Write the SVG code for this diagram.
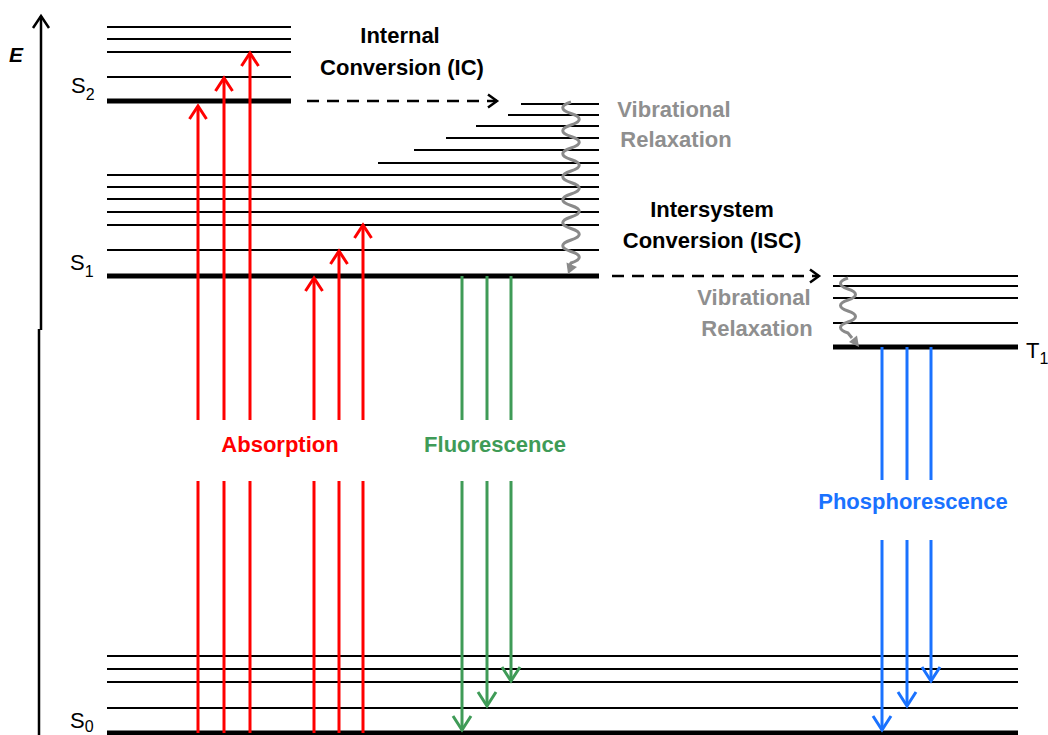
<svg xmlns="http://www.w3.org/2000/svg" width="1048" height="735" viewBox="0 0 1048 735">
<style>
.lv{stroke:#000;stroke-width:2;fill:none}
.lvt{stroke:#000;stroke-width:5;fill:none}
.lab{font-family:"Liberation Sans",Arial,sans-serif;font-weight:bold;font-size:22px;text-anchor:middle}
.st{font-family:"Liberation Sans",Arial,sans-serif;font-size:22px;fill:#000}
.sub{font-size:16px}
.red{stroke:#ff0000;stroke-width:3;fill:none}
.grn{stroke:#3f9b57;stroke-width:3;fill:none}
.blu{stroke:#1a72ff;stroke-width:3;fill:none}
.dash{stroke:#000;stroke-width:2.5;stroke-dasharray:12 8;fill:none}
.wave{stroke:#8a8a8a;stroke-width:3;fill:none}
.gray{fill:#8f8f8f}
</style>
<defs>
<marker id="ahR" markerWidth="30" markerHeight="30" refX="15" refY="15" orient="auto" markerUnits="userSpaceOnUse"><path d="M2,6.5 L15,15 L2,23.5" fill="none" stroke="#ff0000" stroke-width="3"/></marker>
<marker id="ahG" markerWidth="30" markerHeight="30" refX="15" refY="15" orient="auto" markerUnits="userSpaceOnUse"><path d="M1,6 L15,15 L1,24" fill="none" stroke="#3f9b57" stroke-width="3"/></marker>
<marker id="ahB" markerWidth="30" markerHeight="30" refX="15" refY="15" orient="auto" markerUnits="userSpaceOnUse"><path d="M1,6 L15,15 L1,24" fill="none" stroke="#1a72ff" stroke-width="3"/></marker>
<marker id="ahK" markerWidth="30" markerHeight="30" refX="15" refY="15" orient="auto" markerUnits="userSpaceOnUse"><path d="M6,8.5 L15,15 L6,21.5" fill="none" stroke="#000" stroke-width="2.5"/></marker>
<marker id="ahE" markerWidth="30" markerHeight="30" refX="15" refY="15" orient="auto" markerUnits="userSpaceOnUse"><path d="M3,7 L15,15 L3,23" fill="none" stroke="#000" stroke-width="2.5"/></marker>
</defs>
<rect width="1048" height="735" fill="#fff"/>

<g id="axis">
<line x1="41" y1="330" x2="41" y2="16" stroke="#000" stroke-width="2.5" marker-end="url(#ahE)"/>
<line x1="39" y1="329" x2="39" y2="735" stroke="#000" stroke-width="2.5"/>
<text x="9" y="62" style="font-family:'Liberation Sans',Arial,sans-serif;font-size:21px;font-style:italic;font-weight:bold">E</text>
</g>

<g id="S2">
<line class="lv" x1="107" y1="27" x2="291" y2="27"/>
<line class="lv" x1="107" y1="39" x2="291" y2="39"/>
<line class="lv" x1="107" y1="52" x2="291" y2="52"/>
<line class="lv" x1="107" y1="77" x2="291" y2="77"/>
<line class="lvt" x1="107" y1="101" x2="291" y2="101"/>
<text class="st" x="71" y="93">S<tspan class="sub" dy="7">2</tspan></text>
</g>

<g id="S1">
<line class="lv" x1="521" y1="104" x2="599" y2="104"/>
<line class="lv" x1="508" y1="115" x2="599" y2="115"/>
<line class="lv" x1="476" y1="126" x2="599" y2="126"/>
<line class="lv" x1="446" y1="138" x2="599" y2="138"/>
<line class="lv" x1="414" y1="150" x2="599" y2="150"/>
<line class="lv" x1="378" y1="163" x2="599" y2="163"/>
<line class="lv" x1="107" y1="175" x2="599" y2="175"/>
<line class="lv" x1="107" y1="187" x2="599" y2="187"/>
<line class="lv" x1="107" y1="199" x2="599" y2="199"/>
<line class="lv" x1="107" y1="212" x2="599" y2="212"/>
<line class="lv" x1="107" y1="225" x2="599" y2="225"/>
<line class="lv" x1="107" y1="250" x2="599" y2="250"/>
<line class="lvt" x1="107" y1="276" x2="599" y2="276"/>
<text class="st" x="70" y="270">S<tspan class="sub" dy="7">1</tspan></text>
</g>

<g id="T1">
<line class="lv" x1="833" y1="276" x2="1018" y2="276"/>
<line class="lv" x1="833" y1="286" x2="1018" y2="286"/>
<line class="lv" x1="833" y1="298" x2="1018" y2="298"/>
<line class="lv" x1="833" y1="323" x2="1018" y2="323"/>
<line class="lvt" x1="833" y1="347" x2="1018" y2="347"/>
<text class="st" x="1026" y="358">T<tspan class="sub" dy="6">1</tspan></text>
</g>

<g id="S0">
<line class="lv" x1="107" y1="656" x2="1018" y2="656"/>
<line class="lv" x1="107" y1="669" x2="1018" y2="669"/>
<line class="lv" x1="107" y1="682" x2="1018" y2="682"/>
<line class="lv" x1="107" y1="708" x2="1018" y2="708"/>
<line class="lvt" x1="107" y1="733" x2="1018" y2="733"/>
<text class="st" x="70" y="728">S<tspan class="sub" dy="4">0</tspan></text>
</g>

<g id="labels">
<text class="lab" x="400" y="43">Internal</text>
<text class="lab" x="402" y="75">Conversion (IC)</text>
<text class="lab" x="712" y="217">Intersystem</text>
<text class="lab" x="712" y="248">Conversion (ISC)</text>
<text class="lab gray" x="674" y="117">Vibrational</text>
<text class="lab gray" x="676" y="147">Relaxation</text>
<text class="lab gray" x="754" y="305">Vibrational</text>
<text class="lab gray" x="757" y="336">Relaxation</text>
<text class="lab" x="280" y="452" fill="#ff0000">Absorption</text>
<text class="lab" x="495" y="452" fill="#3f9b57">Fluorescence</text>
<text class="lab" x="913" y="509" fill="#1a72ff">Phosphorescence</text>
</g>

<g id="connectors">
<line class="red" x1="198" y1="733" x2="198" y2="481"/>
<line class="red" x1="198" y1="420" x2="198" y2="106" marker-end="url(#ahR)"/>
<line class="red" x1="224" y1="733" x2="224" y2="481"/>
<line class="red" x1="224" y1="420" x2="224" y2="78" marker-end="url(#ahR)"/>
<line class="red" x1="250" y1="733" x2="250" y2="481"/>
<line class="red" x1="250" y1="420" x2="250" y2="53" marker-end="url(#ahR)"/>
<line class="red" x1="314" y1="733" x2="314" y2="481"/>
<line class="red" x1="314" y1="420" x2="314" y2="278" marker-end="url(#ahR)"/>
<line class="red" x1="339" y1="733" x2="339" y2="481"/>
<line class="red" x1="339" y1="420" x2="339" y2="251" marker-end="url(#ahR)"/>
<line class="red" x1="363" y1="733" x2="363" y2="481"/>
<line class="red" x1="363" y1="420" x2="363" y2="225" marker-end="url(#ahR)"/>
<line class="grn" x1="462" y1="276" x2="462" y2="420"/>
<line class="grn" x1="462" y1="481" x2="462" y2="730" marker-end="url(#ahG)"/>
<line class="grn" x1="487" y1="276" x2="487" y2="420"/>
<line class="grn" x1="487" y1="481" x2="487" y2="706" marker-end="url(#ahG)"/>
<line class="grn" x1="511" y1="276" x2="511" y2="420"/>
<line class="grn" x1="511" y1="481" x2="511" y2="681" marker-end="url(#ahG)"/>
<line class="blu" x1="882" y1="347" x2="882" y2="480"/>
<line class="blu" x1="882" y1="540" x2="882" y2="730" marker-end="url(#ahB)"/>
<line class="blu" x1="907" y1="347" x2="907" y2="480"/>
<line class="blu" x1="907" y1="540" x2="907" y2="706" marker-end="url(#ahB)"/>
<line class="blu" x1="931" y1="347" x2="931" y2="480"/>
<line class="blu" x1="931" y1="540" x2="931" y2="681" marker-end="url(#ahB)"/>
<line class="dash" x1="307" y1="101" x2="497" y2="101" marker-end="url(#ahK)"/>
<line class="dash" x1="612" y1="276" x2="819" y2="276" marker-end="url(#ahK)"/>
<path class="wave" d="M571,102 c-11,3.5 -11,8 0,11.5 c11,3.5 11,8 0,11.5 c-11,3.5 -11,8 0,11.5 c11,3.5 11,8 0,11.5 c-11,3.5 -11,8 0,11.5 c11,3.5 11,8 0,11.5 c-11,3.5 -11,8 0,11.5 c11,3.5 11,8 0,11.5 c-11,3.5 -11,8 0,11.5 c11,3.5 11,8 0,11.5 c-11,3.5 -11,8 0,11.5 c11,3.5 11,8 0,11.5 c-11,3.5 -11,8 0,11.5 c11,3.5 11,8 0,11.5 l-1.5,3"/>
<polygon points="568,274 566.5,262.5 577,267" fill="#8a8a8a"/>
<path class="wave" d="M848,278 c-10,3.3 -10,7.7 0,11 c10,3.3 10,7.7 0,11 c-10,3.3 -10,7.7 0,11 c10,3.3 10,7.7 0,11 c-10,3.3 -10,7.7 0,11 l4,5"/>
<polygon points="859,347 849,342 857,335.5" fill="#8a8a8a"/>
</g>
</svg>
